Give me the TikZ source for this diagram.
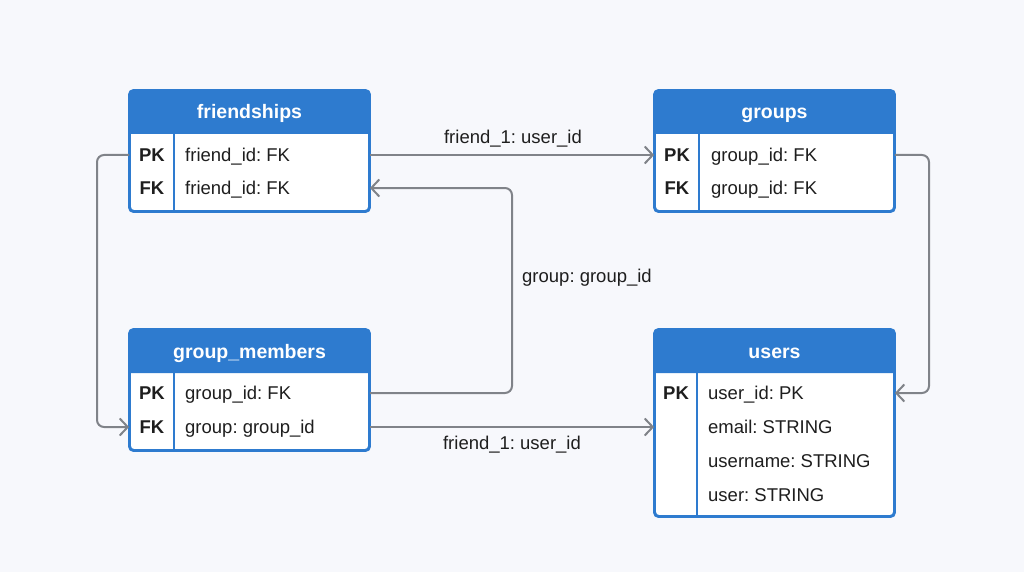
\documentclass[tikz,border=0pt]{standalone}
\usepackage{fontspec}
\setmainfont{Liberation Sans}
\usetikzlibrary{arrows.meta}
\definecolor{bg}{HTML}{F7F8FC}
\definecolor{hdr}{HTML}{2E7BCF}
\definecolor{connc}{HTML}{808389}
\definecolor{txt}{HTML}{1E1E1E}
\frenchspacing
\tikzset{
 tbl/.style={draw=hdr, line width=1.8, fill=white, rounded corners=4, inner sep=0, minimum width=239, minimum height=#1},
 hdrtext/.style={text=white, font=\fontsize{19.5}{22}\selectfont\bfseries, anchor=base, inner sep=0},
 keytext/.style={text=txt, font=\fontsize{18.5}{22}\selectfont\bfseries, text height=13.2, text depth=0, inner sep=0},
 fieldtext/.style={text=txt, font=\fontsize{18.5}{22}\selectfont, text height=13.2, text depth=0, inner sep=0, anchor=west},
 connline/.style={draw=connc, line width=2, rounded corners=7, -{Straight Barb[length=8,width=17,line width=2]}},
 lbl/.style={text=txt, font=\fontsize{18.5}{22}\selectfont, text height=13.2, text depth=0, inner sep=0},
 divline/.style={draw=hdr, line width=1.8},
}
\begin{document}
\begin{tikzpicture}[x=1pt,y=-1pt]
\fill[bg] (0,0) rectangle (1024,572);
\useasboundingbox (0,0) rectangle (1024,572);

% friendships
\node[tbl=120] (fr) at (249.5,151) {};
\fill[hdr, rounded corners=4] (130,134) -- (130,91) -- (369,91) -- (369,134);
\draw[divline] (174,134) -- (174,211);
\draw[divline, rounded corners=4] (fr.north west) rectangle (fr.south east);
\node[hdrtext] (frh) at (249.5,119) {friendships};
\node[keytext] (frk1) at (152,155) {PK};
\node[keytext] (frk2) at (152,188) {FK};
\node[fieldtext] (frf1) at (185,155) {friend\_id: FK};
\node[fieldtext] (frf2) at (185,188) {friend\_id: FK};

% groups
\node[tbl=120] (gr) at (774.5,151) {};
\fill[hdr, rounded corners=4] (655,134) -- (655,91) -- (894,91) -- (894,134);
\draw[divline] (699,134) -- (699,211);
\draw[divline, rounded corners=4] (gr.north west) rectangle (gr.south east);
\node[hdrtext] (grh) at (774.5,119) {groups};
\node[keytext] (grk1) at (677,155) {PK};
\node[keytext] (grk2) at (677,188) {FK};
\node[fieldtext] (grf1) at (711,155) {group\_id: FK};
\node[fieldtext] (grf2) at (711,188) {group\_id: FK};

% group_members
\node[tbl=120] (gm) at (249.5,390) {};
\fill[hdr, rounded corners=4] (130,373) -- (130,330) -- (369,330) -- (369,373);
\draw[divline] (174,373) -- (174,450);
\draw[divline, rounded corners=4] (gm.north west) rectangle (gm.south east);
\node[hdrtext] (gmh) at (249.5,358) {group\_members};
\node[keytext] (gmk1) at (152,393) {PK};
\node[keytext] (gmk2) at (152,427) {FK};
\node[fieldtext] (gmf1) at (185,393) {group\_id: FK};
\node[fieldtext] (gmf2) at (185,427) {group: group\_id};

% users
\node[tbl=186] (us) at (774.5,423) {};
\fill[hdr, rounded corners=4] (655,373) -- (655,330) -- (894,330) -- (894,373);
\draw[divline] (697,373) -- (697,516);
\draw[divline, rounded corners=4] (us.north west) rectangle (us.south east);
\node[hdrtext] (ush) at (774.5,358) {users};
\node[keytext] (usk1) at (676,393) {PK};
\node[fieldtext] (usf1) at (708,393) {user\_id: PK};
\node[fieldtext] (usf2) at (708,427) {email: STRING};
\node[fieldtext] (usf3) at (708,461) {username: STRING};
\node[fieldtext] (usf4) at (708,495) {user: STRING};

% connectors
\coordinate (lx) at (97,0);
\coordinate (mx) at (512,0);
\coordinate (rx) at (929,0);

\draw[connline] (fr.east |- frf1) -- (gr.west |- grf1);
\draw[connline] (fr.west |- frk1) -- (lx |- frk1) -- (lx |- gmk2) -- (gm.west |- gmk2);
\draw[connline] (gm.east |- gmf1) -- (mx |- gmf1) -- (mx |- frf2) -- (fr.east |- frf2);
\draw[connline] (gm.east |- gmf2) -- (us.west |- usf2);
\draw[connline] (gr.east |- grf1) -- (rx |- grf1) -- (rx |- usf1) -- (us.east |- usf1);

% labels
\node[lbl] (l1) at (513,137) {friend\_1: user\_id};
\node[lbl, anchor=west] (l2) at (522,276) {group: group\_id};
\node[lbl] (l3) at (512,443) {friend\_1: user\_id};
\end{tikzpicture}
\end{document}
